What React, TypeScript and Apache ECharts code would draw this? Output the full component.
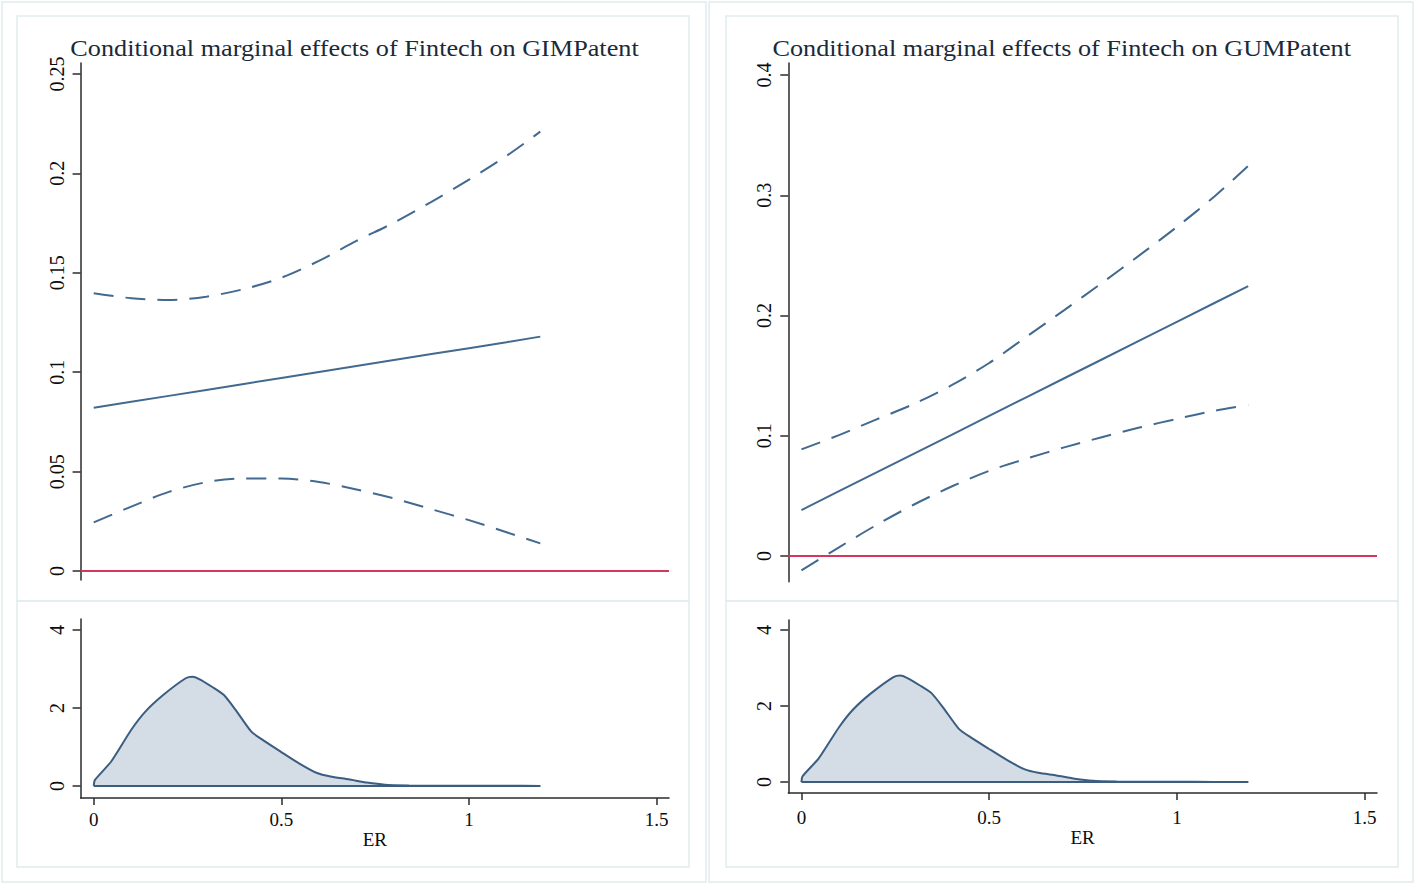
import React, { useEffect, useRef } from "react";
import * as echarts from "echarts";

// ER grid for the marginal-effect lines
const erGrid = [0, 0.1, 0.2, 0.3, 0.4, 0.5, 0.6, 0.7, 0.8, 0.9, 1.0, 1.1, 1.19];

// Left panel: GIMPatent
const gimEffect = [0.0821, 0.0851, 0.0881, 0.0911, 0.0941, 0.0971, 0.1001, 0.1031, 0.1061, 0.1091, 0.1121, 0.1151, 0.1179];
const gimUpper = [0.1397, 0.1372, 0.1363, 0.138, 0.1418, 0.1475, 0.156, 0.166, 0.1752, 0.1857, 0.1968, 0.2088, 0.221];
const gimLower = [0.0245, 0.0324, 0.0398, 0.0447, 0.0466, 0.0465, 0.0448, 0.041, 0.0365, 0.0311, 0.0256, 0.0195, 0.0139];

// Right panel: GUMPatent
const gumEffect = [0.0382, 0.0539, 0.0695, 0.0852, 0.1008, 0.1165, 0.1321, 0.1478, 0.1634, 0.1791, 0.1947, 0.2104, 0.2245];
const gumUpper = [0.0887, 0.1005, 0.1136, 0.1265, 0.142, 0.1605, 0.1825, 0.2045, 0.227, 0.25, 0.2737, 0.299, 0.3245];
const gumLower = [-0.012, 0.0072, 0.0258, 0.0428, 0.0578, 0.0708, 0.081, 0.0903, 0.0988, 0.1068, 0.114, 0.1208, 0.1255];

// Kernel density of ER (same sample in both panels)
const densX = [0, 0.003, 0.046, 0.1, 0.137, 0.185, 0.245, 0.263, 0.281, 0.317, 0.347, 0.378, 0.42, 0.45, 0.498, 0.547, 0.595, 0.631, 0.679, 0.728, 0.776, 0.84, 0.9, 1.0, 1.1, 1.19];
const densY = [0, 0.15, 0.62, 1.44, 1.9, 2.33, 2.76, 2.8, 2.74, 2.53, 2.33, 1.95, 1.39, 1.18, 0.88, 0.58, 0.33, 0.24, 0.17, 0.085, 0.03, 0.01, 0.005, 0.004, 0.002, 0];

// Tick labels
const xTicks = [0, 0.5, 1, 1.5];
const gimTicks = [0, 0.05, 0.1, 0.15, 0.2, 0.25];
const gumTicks = [0, 0.1, 0.2, 0.3, 0.4];
const densTicks = [0, 2, 4];

const titles = ["Conditional marginal effects of Fintech on GIMPatent", "Conditional marginal effects of Fintech on GUMPatent"];

const LINE = "#42698f";
const AXIS = "#2b2b2b";
const RED = "#d4365c";
const FRAME = "#e2ecee";
const TEXT = "#0d0d0d";
const FONT = "'Liberation Serif', 'Times New Roman', serif";

function pairs(xs: number[], ys: number[]) {
  return xs.map((x, i) => [x, ys[i]]);
}

export default function App() {
  const ref = useRef<HTMLDivElement>(null);
  useEffect(() => {
    document.body.style.margin = "0";
    if (!ref.current) return;
    const chart = echarts.init(ref.current, undefined, { renderer: "svg" });

    const grids = [
      { left: 80.6, top: 63, width: 588.4, height: 517 },
      { left: 80.6, top: 619, width: 588.4, height: 179 },
      { left: 788.3, top: 63, width: 588.7, height: 518.7 },
      { left: 788.3, top: 620, width: 588.7, height: 173 },
    ];
    const nameGaps = [24, 24, 32, 32];
    const labelMargins = [12, 12, 15, 15];

    const xAxis = [0, 1, 2, 3].map((g) => {
      const bottom = g === 1 || g === 3;
      return {
        type: "value",
        gridIndex: g,
        position: "bottom",
        min: -0.035,
        max: 1.533,
        show: bottom,
        name: bottom ? "ER" : "",
        nameLocation: "middle",
        nameGap: nameGaps[g],
        nameTextStyle: { fontFamily: FONT, fontSize: 19, color: TEXT },
        axisLine: { show: true, onZero: false, lineStyle: { color: AXIS, width: 1.5 } },
        axisTick: { show: true, length: 7, lineStyle: { color: AXIS, width: 1.5 }, customValues: xTicks },
        axisLabel: { show: true, margin: labelMargins[g], fontFamily: FONT, fontSize: 19, color: TEXT, customValues: xTicks },
        splitLine: { show: false },
      };
    });

    const yDefs = [
      { min: -0.0045, max: 0.2555, ticks: gimTicks },
      { min: -0.31, max: 4.28, ticks: densTicks },
      { min: -0.0214, max: 0.41, ticks: gumTicks },
      { min: -0.29, max: 4.26, ticks: densTicks },
    ];
    const yAxis = yDefs.map((d, g) => ({
      type: "value",
      gridIndex: g,
      position: "left",
      min: d.min,
      max: d.max,
      axisLine: { show: true, onZero: false, lineStyle: { color: AXIS, width: 1.5 } },
      axisTick: { show: true, length: 8, lineStyle: { color: AXIS, width: 1.5 }, customValues: d.ticks },
      axisLabel: { show: true, rotate: 90, margin: 14, fontFamily: FONT, fontSize: 20, color: TEXT, customValues: d.ticks },
      splitLine: { show: false },
    }));

    const effectSeries = (g: number, eff: number[], up: number[], lo: number[]) => [
      {
        type: "line", xAxisIndex: g, yAxisIndex: g, data: pairs(erGrid, eff), showSymbol: false,
        lineStyle: { color: LINE, width: 2 }, z: 3,
        markLine: {
          silent: true, symbol: "none", label: { show: false },
          lineStyle: { color: RED, width: 2, type: "solid" },
          data: [{ yAxis: 0 }],
        },
      },
      {
        type: "line", xAxisIndex: g, yAxisIndex: g, data: pairs(erGrid, up), showSymbol: false, smooth: 0.3,
        lineStyle: { color: LINE, width: 2, type: [20, 12] }, z: 3,
      },
      {
        type: "line", xAxisIndex: g, yAxisIndex: g, data: pairs(erGrid, lo), showSymbol: false, smooth: 0.3,
        lineStyle: { color: LINE, width: 2, type: [20, 12] }, z: 3,
      },
    ];

    const densSeries = (g: number) => [
      {
        type: "line", xAxisIndex: g, yAxisIndex: g, data: pairs(densX, densY), showSymbol: false, smooth: 0.2,
        lineStyle: { color: "#3a5d80", width: 2 },
        areaStyle: { color: "#d4dce5", opacity: 1 },
      },
      {
        type: "line", xAxisIndex: g, yAxisIndex: g,
        data: [[densX[0], 0], [densX[densX.length - 1], 0]],
        showSymbol: false, lineStyle: { color: "#3a5d80", width: 2 },
      },
    ];

    const frame = (x: number, y: number, w: number, h: number) => ({
      type: "rect", shape: { x, y, width: w, height: h }, z: -10, silent: true,
      style: { fill: "none", stroke: FRAME, lineWidth: 1.5 },
    });

    chart.setOption({
      animation: false,
      backgroundColor: "#ffffff",
      grid: grids,
      xAxis,
      yAxis,
      series: [
        ...effectSeries(0, gimEffect, gimUpper, gimLower),
        ...densSeries(1),
        ...effectSeries(2, gumEffect, gumUpper, gumLower),
        ...densSeries(3),
      ],
      graphic: [
        frame(2, 2, 704, 880),
        frame(709, 2, 704, 880),
        frame(17, 16, 672, 585),
        frame(17, 601, 672, 266),
        frame(726, 16, 672, 585),
        frame(726, 601, 672, 266),
        {
          type: "text", x: 354.5, y: 48, scaleX: 1.14, z: 10,
          style: { text: titles[0], textAlign: "center", textVerticalAlign: "middle", font: `23px ${FONT}`, fill: "#1a2a3a" },
        },
        {
          type: "text", x: 1061.7, y: 48, scaleX: 1.14, z: 10,
          style: { text: titles[1], textAlign: "center", textVerticalAlign: "middle", font: `23px ${FONT}`, fill: "#1a2a3a" },
        },
      ],
    });
    return () => chart.dispose();
  }, []);
  return <div ref={ref} style={{ width: 1417, height: 885 }} />;
}
